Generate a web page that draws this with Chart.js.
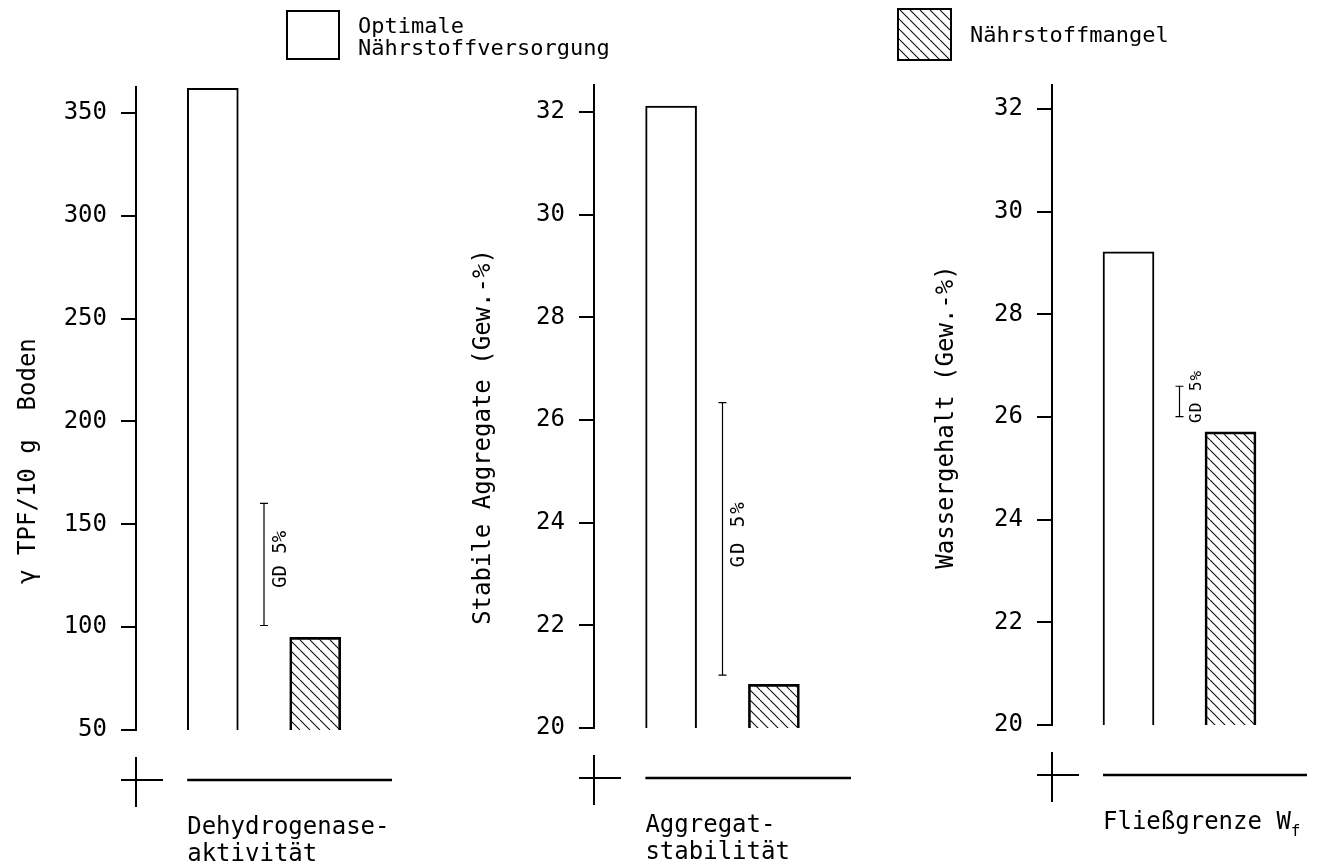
<!DOCTYPE html>
<html>
<head>
<meta charset="utf-8">
<script src="https://cdn.jsdelivr.net/npm/chart.js@4.4.1/dist/chart.umd.min.js"></script>
<style>
  html, body { margin: 0; padding: 0; background: #fff; }
  #wrap { position: relative; width: 1321px; height: 862px; }
  #wrap canvas { position: absolute; left: 0; top: 0; }
</style>
</head>
<body>
<div id="wrap">
  <canvas id="panel0" width="1321" height="862"></canvas>
  <canvas id="panel1" width="1321" height="862"></canvas>
  <canvas id="panel2" width="1321" height="862"></canvas>
</div>
<script>
// legend / series names
const seriesNames = [['Optimale', 'Nährstoffversorgung'], ['Nährstoffmangel']];

// bar values per panel
const optimalValues = [362, 32.12, 29.22];
const deficitValues = [95, 20.85, 25.71];

// GD 5% (least significant difference) bars
const gdLow = [100.8, 21.03, 26.01];
const gdHigh = [160.2, 26.34, 26.6];
const gdLabel = 'GD 5%';

// value axes
const yMin = [50, 20, 20];
const yMax = [362.6, 32.53, 32.47];
const yStep = [50, 2, 2];
const yTitles = ['γ TPF/10 g  Boden', 'Stabile Aggregate (Gew.-%)', 'Wassergehalt (Gew.-%)'];

// category captions under each panel ("_" marks a subscript)
const categoryLabels = [['Dehydrogenase-', 'aktivität'], ['Aggregat-', 'stabilität'], ['Fließgrenze W_f']];

// layout of the three panels (pixels)
const panelBoxes = [
    { left: 136, top: 87, right: 392, bottom: 730, titleX: 29, titleY: 461, gdFont: 19, gdSpacing: 0 },
    { left: 594, top: 85, right: 851, bottom: 728, titleX: 484, titleY: 437, gdFont: 19, gdSpacing: 2 },
    { left: 1052, top: 85, right: 1307, bottom: 725, titleX: 947, titleY: 417, gdFont: 16, gdSpacing: 1 }
];
const yBoxWidth = 100;
const fontFamily = '"DejaVu Sans Mono", "Liberation Mono", monospace';

function makeHatch(ctx) {
    var s = 10;
    var tile = document.createElement('canvas');
    tile.width = s;
    tile.height = s;
    var g = tile.getContext('2d');
    g.strokeStyle = '#111';
    g.lineWidth = 1.1;
    g.beginPath();
    for (let k = -1; k <= 1; k++) {
        g.moveTo(k * s, 0);
        g.lineTo(k * s + s, s);
    }
    g.stroke();
    return ctx.createPattern(tile, 'repeat');
}

function drawLabel(ctx, text, x, y) {
    //Draw text with an optional subscript part after "_".
    var parts = text.split('_');
    ctx.fillText(parts[0], x, y);
    if (parts.length > 1) {
        var w = ctx.measureText(parts[0]).width;
        var mainFont = ctx.font;
        ctx.font = '16px ' + fontFamily;
        ctx.fillText(parts[1], x + w, y + 7);
        ctx.font = mainFont;
    }
}

function decorPlugin(i, hatch) {
    return {
        id: 'decor' + i,
        afterDraw: function (chart) {
            var ctx = chart.ctx;
            var xs = chart.scales.x;
            var ys = chart.scales.y;
            var area = chart.chartArea;
            var box = panelBoxes[i];

            ctx.save();
            ctx.strokeStyle = '#000';
            ctx.fillStyle = '#000';

            //GD 5% bar between the two columns.
            var gx = xs.getPixelForValue(0.5);
            var gTop = ys.getPixelForValue(gdHigh[i]);
            var gBottom = ys.getPixelForValue(gdLow[i]);
            ctx.lineWidth = 1.2;
            ctx.beginPath();
            ctx.moveTo(gx, gTop);
            ctx.lineTo(gx, gBottom);
            ctx.moveTo(gx - 4, gTop);
            ctx.lineTo(gx + 4, gTop);
            ctx.moveTo(gx - 4, gBottom);
            ctx.lineTo(gx + 4, gBottom);
            ctx.stroke();

            ctx.save();
            ctx.translate(gx + 17, (gTop + gBottom) / 2 - 5);
            ctx.rotate(-Math.PI / 2);
            ctx.font = box.gdFont + 'px ' + fontFamily;
            ctx.letterSpacing = box.gdSpacing + 'px';
            ctx.textAlign = 'center';
            ctx.textBaseline = 'middle';
            ctx.fillText(gdLabel, 0, 0);
            ctx.restore();

            //Axis break cross and category base line.
            var yb = area.bottom + 50;
            ctx.lineWidth = 2;
            ctx.beginPath();
            ctx.moveTo(area.left, area.bottom + 27);
            ctx.lineTo(area.left, area.bottom + 77);
            ctx.moveTo(area.left - 15, yb);
            ctx.lineTo(area.left + 27, yb);
            ctx.stroke();

            //Base line starts at the left edge of the first bar.
            var lineStart = xs.getPixelForValue(-0.25);
            ctx.lineWidth = 2.5;
            ctx.beginPath();
            ctx.moveTo(lineStart, yb);
            ctx.lineTo(area.right, yb);
            ctx.stroke();

            //Category caption.
            ctx.font = '24px ' + fontFamily;
            ctx.textAlign = 'left';
            ctx.textBaseline = 'alphabetic';
            categoryLabels[i].forEach(function (line, k) {
                drawLabel(ctx, line, lineStart, area.bottom + 104 + k * 27);
            });

            //Rotated value-axis title.
            ctx.save();
            ctx.translate(box.titleX, box.titleY);
            ctx.rotate(-Math.PI / 2);
            ctx.font = '24px ' + fontFamily;
            ctx.textAlign = 'center';
            ctx.textBaseline = 'middle';
            ctx.fillText(yTitles[i], 0, 0);
            ctx.restore();

            //Legend, drawn once on the first panel.
            if (i === 0) {
                ctx.font = '22px ' + fontFamily;
                ctx.textAlign = 'left';
                ctx.lineWidth = 2;

                ctx.fillStyle = '#fff';
                ctx.fillRect(287, 11, 52, 48);
                ctx.strokeRect(287, 11, 52, 48);
                ctx.fillStyle = '#000';
                seriesNames[0].forEach(function (line, k) {
                    ctx.fillText(line, 358, 33 + k * 22);
                });

                ctx.fillStyle = hatch;
                ctx.fillRect(898, 9, 53, 51);
                ctx.strokeRect(898, 9, 53, 51);
                ctx.fillStyle = '#000';
                seriesNames[1].forEach(function (line, k) {
                    ctx.fillText(line, 970, 42 + k * 22);
                });
            }

            ctx.restore();
        }
    };
}

function createPanel(i) {
    var canvas = document.getElementById('panel' + i);
    var ctx = canvas.getContext('2d');
    var hatch = makeHatch(ctx);
    var box = panelBoxes[i];

    var barData = [optimalValues[i], deficitValues[i]].map(function (v, k) {
        return { x: k, y: v };
    });

    return new Chart(canvas, {
        type: 'bar',
        data: {
            datasets: [{
                label: seriesNames[0].join(' ') + ' / ' + seriesNames[1].join(' '),
                data: barData,
                backgroundColor: ['#ffffff', hatch],
                borderColor: '#000',
                borderWidth: 2,
                borderSkipped: 'bottom',
                barThickness: 51
            }]
        },
        options: {
            responsive: false,
            animation: false,
            devicePixelRatio: 1,
            layout: {
                padding: {
                    left: box.left - yBoxWidth,
                    top: box.top,
                    right: 1321 - box.right,
                    bottom: 862 - box.bottom
                }
            },
            scales: {
                x: {
                    type: 'linear',
                    min: -0.75,
                    max: 1.75,
                    offset: false,
                    grid: { offset: false },
                    display: false
                },
                y: {
                    min: yMin[i],
                    max: yMax[i],
                    afterFit: function (scale) {
                        scale.width = yBoxWidth;
                    },
                    ticks: {
                        stepSize: yStep[i],
                        includeBounds: false,
                        color: '#000',
                        padding: 14,
                        font: { family: fontFamily, size: 24 }
                    },
                    grid: {
                        display: true,
                        drawOnChartArea: false,
                        drawTicks: true,
                        tickLength: 15,
                        color: '#000',
                        lineWidth: 2
                    },
                    border: {
                        display: true,
                        color: '#000',
                        width: 2
                    }
                }
            },
            plugins: {
                legend: { display: false },
                tooltip: { enabled: false }
            }
        },
        plugins: [decorPlugin(i, hatch)]
    });
}

for (let i = 0; i < 3; i++) {
    createPanel(i);
}
</script>
</body>
</html>
